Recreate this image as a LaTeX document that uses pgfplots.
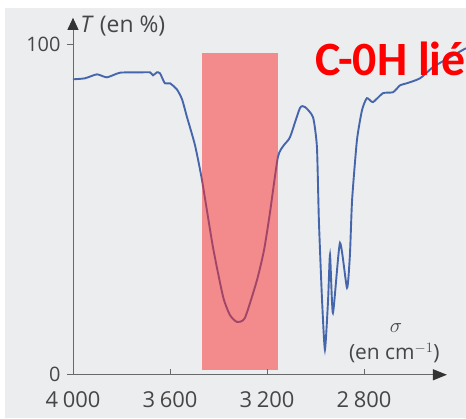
\documentclass[border=0pt]{standalone}
\usepackage{fontspec}
\setmainfont{Open Sans}
\newfontfamily\calibri{Carlito}
\usepackage{pgfplots}
\pgfplotsset{compat=1.18}
\usetikzlibrary{arrows.meta,backgrounds}

\definecolor{bggrey}{RGB}{236,237,239}
\definecolor{axisgrey}{RGB}{105,105,105}
\definecolor{txtgrey}{RGB}{70,70,70}
\definecolor{spec}{RGB}{70,102,172}
\definecolor{band}{RGB}{250,40,40}

% IR spectrum (sigma in cm-1, T in %)
\pgfplotstableread{
sigma T
4000 89.4
3951 89.7
3901 90.9
3860 90.0
3806 91.4
3724 91.5
3682 91.5
3670 90.6
3654 91.5
3641 91.2
3621 88.2
3600 88.2
3571 86.3
3550 83.3
3530 78.0
3497 69.5
3468 58.9
3423 38.7
3381 23.6
3353 18.1
3324 16.0
3291 17.2
3241 28.7
3212 37.8
3188 48.9
3155 65.9
3130 69.5
3105 71.9
3064 80.7
3043 81.0
3010 77.9
2994 68.9
2986 46.8
2973 22.7
2961 7.6
2948 22.7
2940 36.3
2928 18.7
2899 39.9
2870 26.3
2858 36.3
2849 52.9
2829 71.0
2808 80.1
2788 83.7
2763 82.5
2722 85.2
2680 85.5
2651 87.6
2623 88.2
2569 89.7
2515 93.1
2445 96.1
2380 98.8
}\spectrum

\begin{document}
\begin{tikzpicture}
\begin{axis}[
  scale only axis, width=374bp, height=357bp,
  x dir=reverse,
  xmin=2458, xmax=4000, ymin=0, ymax=108,
  axis x line=bottom, axis y line=left,
  axis line style={axisgrey, line width=0.9bp},
  x axis line style={{Triangle[length=14bp,width=11bp,color=black!80]}-},
  y axis line style={-{Triangle[length=12bp,width=11bp,color=black!80]}},
  xtick={4000,3600,3200,2800},
  xticklabels={4\hspace{0.22em}000,3\hspace{0.22em}600,3\hspace{0.22em}200,2\hspace{0.22em}800},
  ytick={0,100}, yticklabels={0,100},
  xtick align=inside, ytick align=outside,
  major tick length=6bp,
  tick style={axisgrey, line width=0.8bp},
  xticklabel style={font=\fontsize{22}{24}\selectfont, text=txtgrey, yshift=-13bp},
  yticklabel style={font=\fontsize{20}{22}\selectfont, text=txtgrey, xshift=-3bp},
  clip=false,
]
\addplot[spec, line width=1.9bp, smooth, tension=0.35] table[x=sigma, y=T] {\spectrum};

\fill[band, fill opacity=0.5] (axis cs:3468,1.5) rectangle (axis cs:3155,97.3);

\node[anchor=west, inner sep=0, text=txtgrey, font=\fontsize{23}{25}\selectfont]
  at (axis cs:3970,105.5) {\textit{T} (en \%)};
\node[text=txtgrey, font=\fontsize{22}{24}\selectfont] at (axis cs:2668,14.2) {$\sigma$};
\node[text=txtgrey, font=\fontsize{21}{23}\selectfont] at (axis cs:2675,6.6) {(en cm$^{-1}$)};

\node[anchor=base west, inner sep=0, text=red, font=\calibri\bfseries\fontsize{48}{52}\selectfont]
  at (axis cs:3000,90.6) {C-0H lié};

\coordinate (imgA) at (axis cs:4301,113.4);
\coordinate (imgB) at (axis cs:2379.3,-13.3);
\coordinate (bgA) at (axis cs:4280,111);
\coordinate (bgB) at (axis cs:2379.3,-13.0);
\end{axis}
\begin{scope}[on background layer]
  \fill[white] (imgA) rectangle (imgB);
  \fill[bggrey] (bgA) rectangle (bgB);
\end{scope}
\pgfresetboundingbox
\path[use as bounding box] (imgA) rectangle (imgB);
\end{tikzpicture}
\end{document}
